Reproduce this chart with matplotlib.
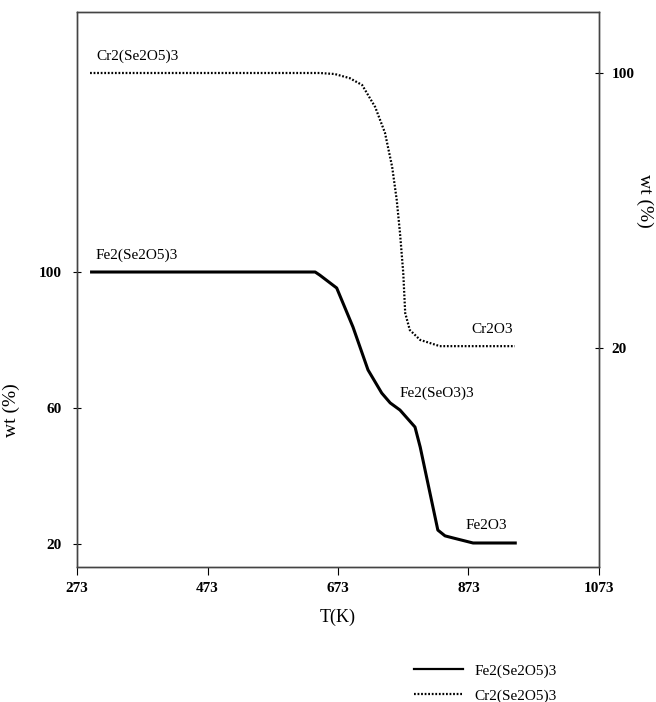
import matplotlib
matplotlib.use("Agg")
import matplotlib.pyplot as plt
from matplotlib.lines import Line2D

plt.rcParams['font.family'] = ['Liberation Serif', 'DejaVu Serif']

# Fe2(Se2O5)3 curve, left axis (T in K, wt %)
fe_T = [293, 638, 645, 671, 696, 719, 740, 753, 768, 791, 799, 826, 837, 849, 880, 947]
fe_wt = [100, 100, 99.1, 95.3, 83.8, 71.2, 64.4, 61.5, 59.4, 54.4, 48.5, 24.1, 22.4, 21.8, 20.3, 20.3]

# Cr2(Se2O5)3 curve, right axis
cr_T = [293, 645, 668, 691, 710, 730, 745, 756, 763, 768, 773, 776, 783, 799, 829, 944]
cr_wt = [100, 100, 99.7, 98.5, 96.5, 90.1, 82.6, 72.7, 63.1, 53.5, 41.9, 30.2, 25.3, 22.4, 20.6, 20.6]

x_ticks = [273, 473, 673, 873, 1073]
left_ticks = [20, 60, 100]
right_ticks = [20, 100]

W, H = 656, 702
fig = plt.figure(figsize=(W / 100, H / 100), dpi=100)
ax = fig.add_axes([77 / W, 1 - 567 / H, (599 - 77) / W, (567 - 12) / H])
ax2 = ax.twinx()

ax.plot(fe_T, fe_wt, color='black', lw=2.2, solid_capstyle='butt')
ax2.plot(cr_T, cr_wt, color='black', lw=1.6, linestyle=(0, (0.8, 0.8)))

ax.set_xlim(273, 1073)
ax.set_ylim(13.24, 176.47)
ax2.set_ylim(-43.6, 117.73)

ax.set_xticks(x_ticks)
ax.set_yticks(left_ticks)
ax2.set_yticks(right_ticks)

for a in (ax, ax2):
    for s in a.spines.values():
        s.set_color('#444444')
        s.set_linewidth(1.0)

ax.tick_params(axis='x', direction='out', length=6, pad=5, labelsize=11)
ax.tick_params(axis='y', direction='inout', length=6, pad=8, labelsize=11)
ax2.tick_params(axis='y', direction='inout', length=6, pad=6, labelsize=11)
for lab in ax.get_xticklabels() + ax.get_yticklabels() + ax2.get_yticklabels():
    lab.set_fontweight('bold')

ax.set_xlabel('T(K)', fontsize=13, labelpad=10)
ax.set_ylabel('wt (%)', fontsize=14)
ax.yaxis.set_label_coords(-0.11, 0.283)
ax2.set_ylabel('wt (%)', fontsize=14, rotation=270, va='center')
ax2.yaxis.set_label_coords(1.088, 0.66)

# curve annotations
ax.text(302, 105, 'Fe2(Se2O5)3', fontsize=11, ha='left', va='center')
ax2.text(302, 105, 'Cr2(Se2O5)3', fontsize=11, ha='left', va='center')
ax2.text(878, 25.5, 'Cr2O3', fontsize=11, ha='left', va='center')
ax.text(768, 64.4, 'Fe2(SeO3)3', fontsize=11, ha='left', va='center')
ax.text(868, 25.5, 'Fe2O3', fontsize=11, ha='left', va='center')

handles = [Line2D([], [], color='black', lw=1.6),
           Line2D([], [], color='black', lw=1.6, linestyle=(0, (0.8, 0.8)))]
fig.legend(handles, ['Fe2(Se2O5)3', 'Cr2(Se2O5)3'], loc='upper left',
           bbox_to_anchor=(400 / W, 1 - 650 / H), frameon=False,
           fontsize=11, handlelength=3.2, labelspacing=0.75, handletextpad=0.8)

fig.savefig('out.png', dpi=100)
